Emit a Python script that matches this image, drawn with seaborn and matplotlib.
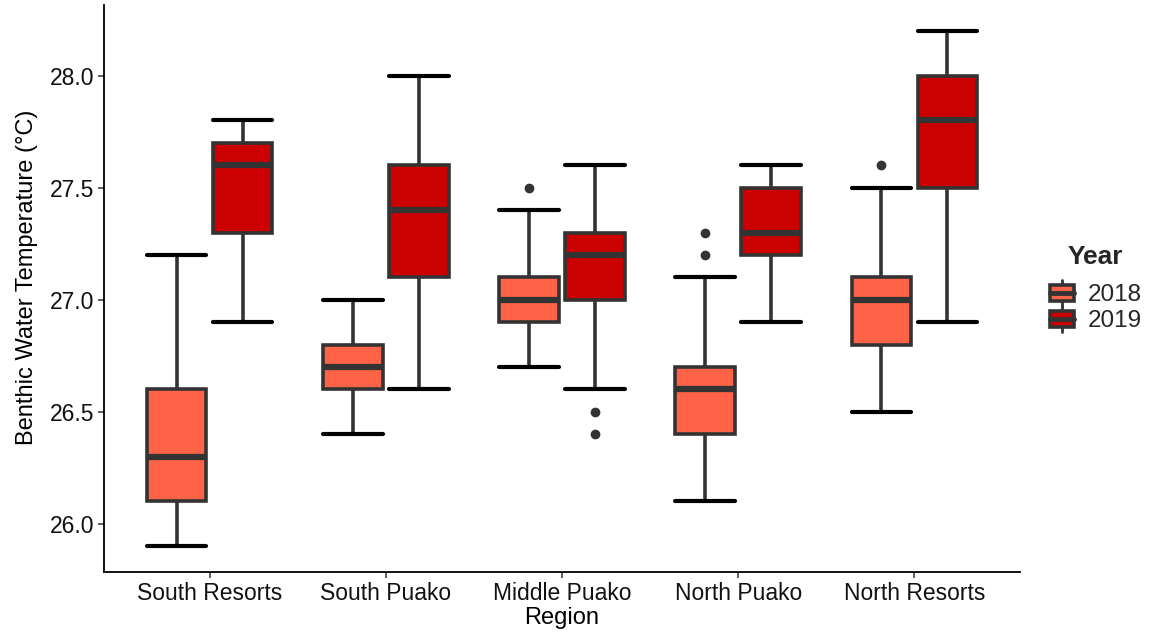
import numpy as np
import pandas as pd
import matplotlib
matplotlib.use("Agg")
import matplotlib.pyplot as plt
import seaborn as sns
from matplotlib.patches import Rectangle, Patch
from matplotlib.lines import Line2D
from matplotlib.legend_handler import HandlerBase

# ---------------- data ----------------
regions = ["South Resorts", "South Puako", "Middle Puako", "North Puako", "North Resorts"]
years = ["2018", "2019"]

low_2018 = [25.9, 26.4, 26.7, 26.1, 26.5]
q1_2018 = [26.1, 26.6, 26.9, 26.4, 26.8]
med_2018 = [26.3, 26.7, 27.0, 26.6, 27.0]
q3_2018 = [26.6, 26.8, 27.1, 26.7, 27.1]
high_2018 = [27.2, 27.0, 27.4, 27.1, 27.5]
out_2018 = [[], [], [27.5], [27.2, 27.3], [27.6]]

low_2019 = [26.9, 26.6, 26.6, 26.9, 26.9]
q1_2019 = [27.3, 27.1, 27.0, 27.2, 27.5]
med_2019 = [27.6, 27.4, 27.2, 27.3, 27.8]
q3_2019 = [27.7, 27.6, 27.3, 27.5, 28.0]
high_2019 = [27.8, 28.0, 27.6, 27.6, 28.2]
out_2019 = [[], [], [26.5, 26.4], [], []]

colors = {"2018": "#FF6347", "2019": "#CC0000"}
line_c = "#333333"

# Build sample sets that reproduce each box's five-number summary
summary = {
    "2018": (low_2018, q1_2018, med_2018, q3_2018, high_2018, out_2018),
    "2019": (low_2019, q1_2019, med_2019, q3_2019, high_2019, out_2019),
}
rows = []
for yr in years:
    lo, q1, md, q3, hi, outs = summary[yr]
    for i, reg in enumerate(regions):
        vals = [lo[i]] + [q1[i]] * 10 + [md[i]] * 10 + [q3[i]] * 10 + [hi[i]] + list(outs[i])
        for v in vals:
            rows.append({"Region": reg, "Year": yr, "Temp": v})
df = pd.DataFrame(rows)

# ---------------- plot ----------------
sns.set_theme(style="white")
plt.rcParams["font.family"] = ["Liberation Sans", "DejaVu Sans"]

fig = plt.figure(figsize=(11.5, 6.34), dpi=100)
ax = fig.add_axes([0.0904, 0.0978, 0.887 - 0.0904, 0.992 - 0.0978])

width = 0.75
gap = 0.1
sns.boxplot(
    data=df, x="Region", y="Temp", hue="Year", order=regions, hue_order=years,
    palette=colors, saturation=1, width=width, gap=gap, whis=1.51, linewidth=2.6,
    linecolor=line_c, fliersize=6, ax=ax, legend=False,
    boxprops=dict(edgecolor=line_c, linewidth=2.6),
    medianprops=dict(color=line_c, linewidth=4.5),
    whiskerprops=dict(color=line_c, linewidth=2.6),
    capprops=dict(color="#000000", linewidth=3.0),
    flierprops=dict(marker="o", color=line_c, markerfacecolor=line_c, markeredgecolor=line_c),
)

# widen caps to the full box width (ggplot errorbar style)
box_w = width / len(years) * (1 - gap)
for ln in ax.lines:
    marker = ln.get_marker()
    if marker not in (None, "", "None", " "):
        continue
    if matplotlib.colors.to_hex(ln.get_color()) == "#000000":
        xd = np.asarray(ln.get_xdata(), dtype=float)
        yd = np.asarray(ln.get_ydata(), dtype=float)
        if len(xd) == 2 and yd[0] == yd[1]:
            c = xd.mean()
            ln.set_xdata([c - box_w / 2, c + box_w / 2])

ax.set_xlim(-0.6, 4.6)
ax.set_ylim(25.785, 28.315)
ax.set_yticks([26.0, 26.5, 27.0, 27.5, 28.0])
ax.set_yticklabels(["26.0", "26.5", "27.0", "27.5", "28.0"])

for s in ["top", "right"]:
    ax.spines[s].set_visible(False)
for s in ["left", "bottom"]:
    ax.spines[s].set_color("black")
    ax.spines[s].set_linewidth(1.3)

ax.tick_params(axis="both", which="major", length=4, width=1.1, color=line_c,
               labelsize=16.5, labelcolor="#111111", pad=3, left=True, bottom=True)
ax.set_xlabel("Region", fontsize=17, color="black", labelpad=2)
ax.set_ylabel("Benthic Water Temperature (°C)", fontsize=17, color="black")
ax.yaxis.set_label_coords(-0.072, 0.52)


# custom legend keys resembling ggplot boxplot keys
class BoxKeyHandler(HandlerBase):
    def create_artists(self, legend, orig_handle, xdescent, ydescent, width, height, fontsize, trans):
        face = orig_handle.get_facecolor()
        x0, y0 = -xdescent, -ydescent
        cx = x0 + width / 2
        vline = Line2D([cx, cx], [y0 - 0.15 * height, y0 + 1.15 * height],
                       color=line_c, lw=2.0, transform=trans)
        rect = Rectangle((x0 + 0.06 * width, y0 + 0.1 * height), 0.88 * width, 0.8 * height,
                         facecolor=face, edgecolor=line_c, lw=2.6, transform=trans)
        med = Line2D([x0 + 0.06 * width, x0 + 0.94 * width], [y0 + 0.5 * height] * 2,
                     color=line_c, lw=3.5, transform=trans)
        return [vline, rect, med]


handles = [Patch(facecolor=colors[y]) for y in years]
leg = fig.legend(handles, years, loc="center left", bbox_to_anchor=(0.893, 0.545),
                 frameon=False, fontsize=17.5, title="Year",
                 title_fontproperties={"weight": "bold", "size": 19},
                 handler_map={Patch: BoxKeyHandler()},
                 handlelength=1.1, handleheight=0.9, handletextpad=0.5,
                 labelspacing=0.1)
leg._legend_box.sep = 10

fig.savefig("out.png", dpi=100, facecolor="white")
